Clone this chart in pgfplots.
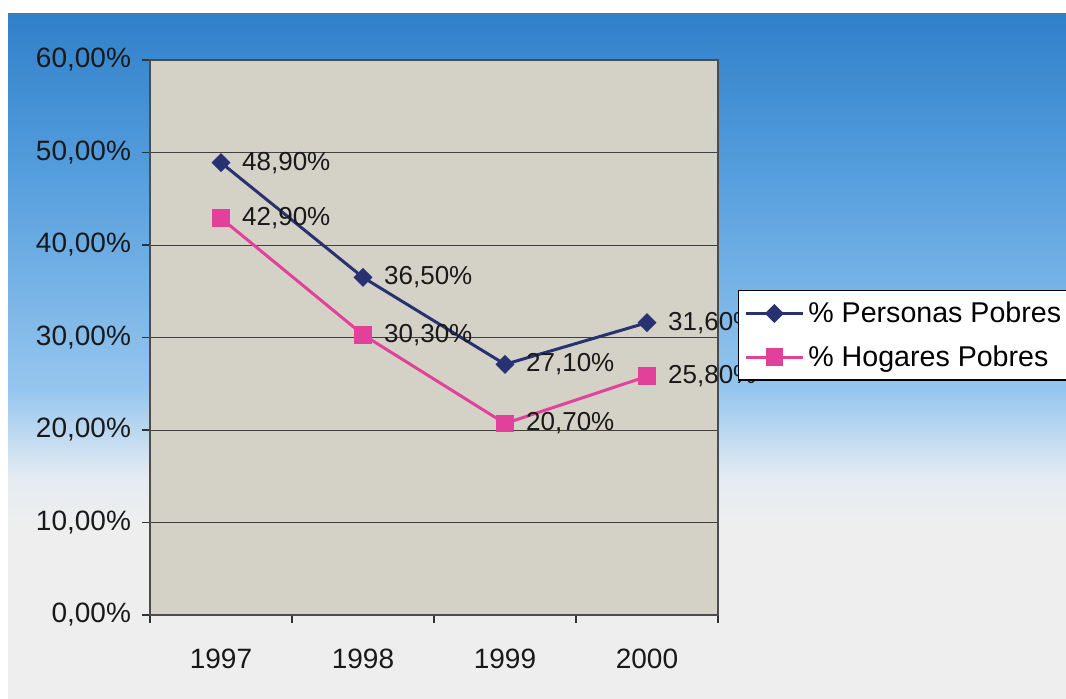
\documentclass[border=0pt]{standalone}
\usepackage{pgfplots}
\pgfplotsset{compat=1.18}
\usepackage{fontspec}
\setmainfont{Liberation Sans}
\definecolor{navy}{RGB}{40,50,115}
\definecolor{pinkc}{RGB}{225,65,155}
\definecolor{plotbg}{RGB}{212,210,198}
\definecolor{bgtop}{RGB}{48,128,202}
\definecolor{bgupper}{RGB}{88,160,222}
\definecolor{bgmid}{RGB}{150,198,238}
\definecolor{bglow}{RGB}{230,236,242}
\definecolor{bgbot}{RGB}{238,238,238}
\pgfdeclareverticalshading{bgshade}{100bp}{color(0bp)=(bgbot); color(37.5bp)=(bgbot); color(41bp)=(bglow); color(47.5bp)=(bgmid); color(62.5bp)=(bgupper); color(75bp)=(bgtop); color(100bp)=(bgtop)}
\begin{document}
\begin{tikzpicture}
\path[use as bounding box] (0,0) rectangle (533pt,349pt);
\fill[white] (0,0) rectangle (533pt,349pt);
\shade[shading=bgshade] (4pt,0pt) rectangle (533pt,342pt);
\begin{axis}[
  at={(75pt,41.5pt)}, anchor=south west,
  width=284pt, height=277.5pt, scale only axis,
  xmin=-0.5, xmax=3.5, ymin=0, ymax=60,
  axis background/.style={fill=plotbg},
  axis line style={draw=black!70, line width=0.6pt},
  xtick={0,1,2,3}, xticklabels={1997,1998,1999,2000},
  minor xtick={-0.5,0.5,1.5,2.5,3.5},
  major x tick style={draw=none},
  ytick={0,10,20,30,40,50,60},
  yticklabels={{0,00\%},{10,00\%},{20,00\%},{30,00\%},{40,00\%},{50,00\%},{60,00\%}},
  tick align=outside, tick pos=left,
  major tick length=4pt, minor tick length=4pt,
  tick style={black!80, line width=0.6pt},
  ymajorgrids, grid style={black!75, line width=0.5pt},
  tick label style={font=\fontsize{14}{17}\selectfont, text=black!90},
  xticklabel style={yshift=-9.5pt},
  yticklabel style={xshift=-2pt},
  clip=false,
  legend style={at={(axis description cs:1.035,0.5856)}, anchor=north west,
    draw=black, line width=0.6pt, fill=white, font=\fontsize{14.3}{17}\selectfont,
    row sep=6pt, inner xsep=3pt, inner ysep=3.5pt},
  legend cell align=left,
  legend image code/.code={\draw[mark repeat=2,mark phase=2] plot coordinates {(0cm,0cm)(0.5cm,0cm)(1.0cm,0cm)};},
  nodes near coords, point meta=explicit symbolic,
  every node near coord/.append style={anchor=west, xshift=6.5pt, font=\fontsize{13}{15}\selectfont, text=black!90},
]
\addplot[navy, line width=1.5pt, mark=square*, mark size=2.6pt, mark options={fill=navy, rotate=45}]
  coordinates {(0,48.9) [48,90\%] (1,36.5) [36,50\%] (2,27.1) [27,10\%] (3,31.6) [31,60\%]};
\addlegendentry{\% Personas Pobres}
\addplot[pinkc, line width=1.5pt, mark=square*, mark size=3.7pt, mark options={fill=pinkc}]
  coordinates {(0,42.9) [42,90\%] (1,30.3) [30,30\%] (2,20.7) [20,70\%] (3,25.8) [25,80\%]};
\addlegendentry{\% Hogares Pobres}
\end{axis}
\end{tikzpicture}
\end{document}
